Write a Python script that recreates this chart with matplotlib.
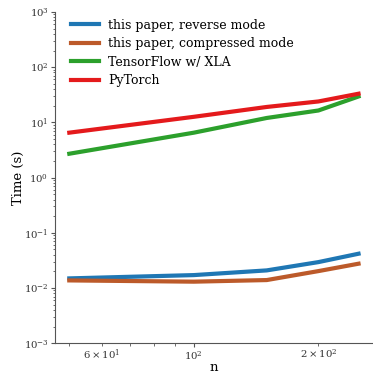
import matplotlib
matplotlib.use("Agg")
import matplotlib.pyplot as plt

# Timing results (seconds) against problem size n
n = [50, 100, 150, 200, 250]
reverse_mode = [0.0149, 0.0171, 0.0208, 0.0294, 0.0417]
compressed_mode = [0.0137, 0.0130, 0.0139, 0.0202, 0.0275]
tensorflow_xla = [2.7, 6.5, 12.0, 16.4, 29.4]
pytorch = [6.5, 12.6, 19.0, 23.9, 33.0]

labels = [
    "this paper, reverse mode",
    "this paper, compressed mode",
    "TensorFlow w/ XLA",
    "PyTorch",
]
colors = ["#1f77b4", "#bc5a2a", "#2ca02c", "#e41a1c"]

plt.rcParams["font.family"] = ["DejaVu Serif"]
plt.rcParams["font.size"] = 9

fig, ax = plt.subplots(figsize=(3.73, 3.73), dpi=100)
fig.subplots_adjust(left=0.147, right=1.0, bottom=0.08, top=0.968)

for series, label, color in zip(
    [reverse_mode, compressed_mode, tensorflow_xla, pytorch], labels, colors
):
    ax.plot(n, series, color=color, linewidth=3, label=label)

ax.set_xscale("log")
ax.set_yscale("log")
ax.set_ylim(1e-3, 1e3)
ax.set_xlabel("n", fontsize=9.5, labelpad=-1)
ax.set_ylabel("Time (s)", fontsize=9.5, labelpad=-1)

for side in ("top", "right"):
    ax.spines[side].set_visible(False)
for side in ("left", "bottom"):
    ax.spines[side].set_color("#555555")
    ax.spines[side].set_linewidth(0.8)
ax.tick_params(which="both", colors="#555555", labelcolor="#333333",
               labelsize=7.3, pad=1.5)
ax.tick_params(which="major", length=3)
ax.tick_params(which="minor", length=1.8)

ax.legend(loc="upper left", bbox_to_anchor=(0.035, 0.995), frameon=False,
          fontsize=9, handlelength=2.25, handletextpad=0.75,
          borderaxespad=0, labelspacing=0.45)

fig.savefig("out.png", dpi=100, facecolor="white")
